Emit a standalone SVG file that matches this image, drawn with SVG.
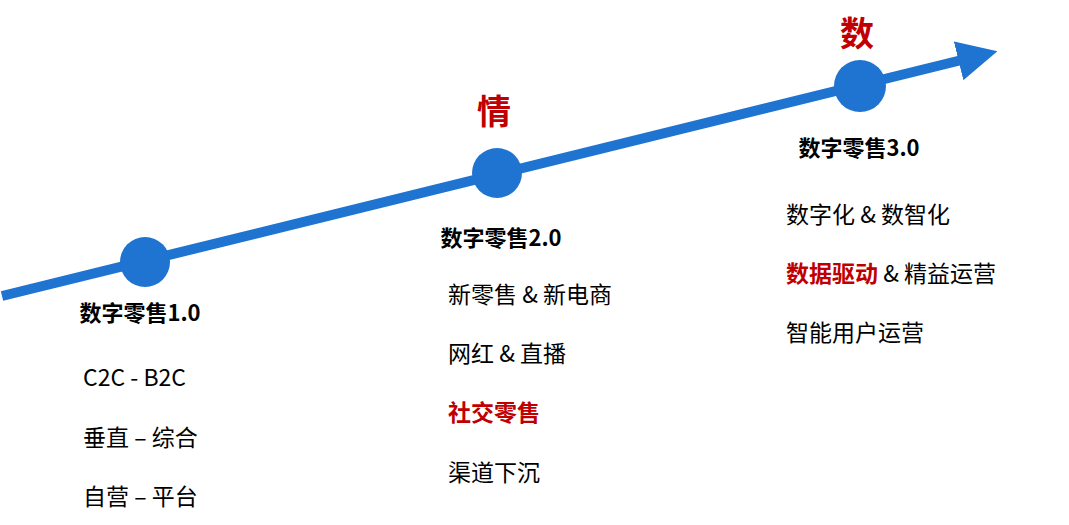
<svg xmlns="http://www.w3.org/2000/svg" width="1069" height="525" viewBox="0 0 1069 525">
<style>
text{font-family:"Noto Sans CJK SC","Noto Sans",sans-serif;}
.h{font-size:22px;font-weight:bold;fill:#000}
.i{font-size:23px;fill:#000}
.r{fill:#c00000;font-weight:bold}
.big{font-size:34px;font-weight:bold;fill:#c00000}
.dot{fill:#1e74d0}
</style>
<defs><marker id="ah" markerWidth="4" markerHeight="4" refX="2" refY="2" orient="auto"><path d="M0,0 L4,2 L0,4 z" fill="#1e74d0"/></marker></defs>
<g id="connectors"><line x1="2" y1="296" x2="978" y2="56" stroke="#1e74d0" stroke-width="10" marker-end="url(#ah)"/></g>
<g id="n1"><circle class="dot" cx="145" cy="262" r="25"/><text class="h" x="140" y="321" text-anchor="middle">数字零售1.0</text>
<text class="i" x="83" y="386">C2C - B2C</text><text class="i" x="83" y="446">垂直 – 综合</text><text class="i" x="83" y="505">自营 – 平台</text></g>
<g id="n2"><circle class="dot" cx="497" cy="173" r="25"/><text class="big" x="494" y="124" text-anchor="middle">情</text><text class="h" x="501" y="246" text-anchor="middle">数字零售2.0</text>
<text class="i" x="448" y="303">新零售 &amp; 新电商</text><text class="i" x="448" y="362">网红 &amp; 直播</text><text class="i r" x="448" y="421">社交零售</text><text class="i" x="448" y="481">渠道下沉</text></g>
<g id="n3"><circle class="dot" cx="860" cy="86" r="26"/><text class="big" x="857" y="46" text-anchor="middle">数</text><text class="h" x="859" y="156" text-anchor="middle">数字零售3.0</text>
<text class="i" x="786" y="223">数字化 &amp; 数智化</text><text class="i" x="786" y="282"><tspan class="r">数据驱动</tspan> &amp; 精益运营</text><text class="i" x="786" y="341">智能用户运营</text></g>
</svg>
